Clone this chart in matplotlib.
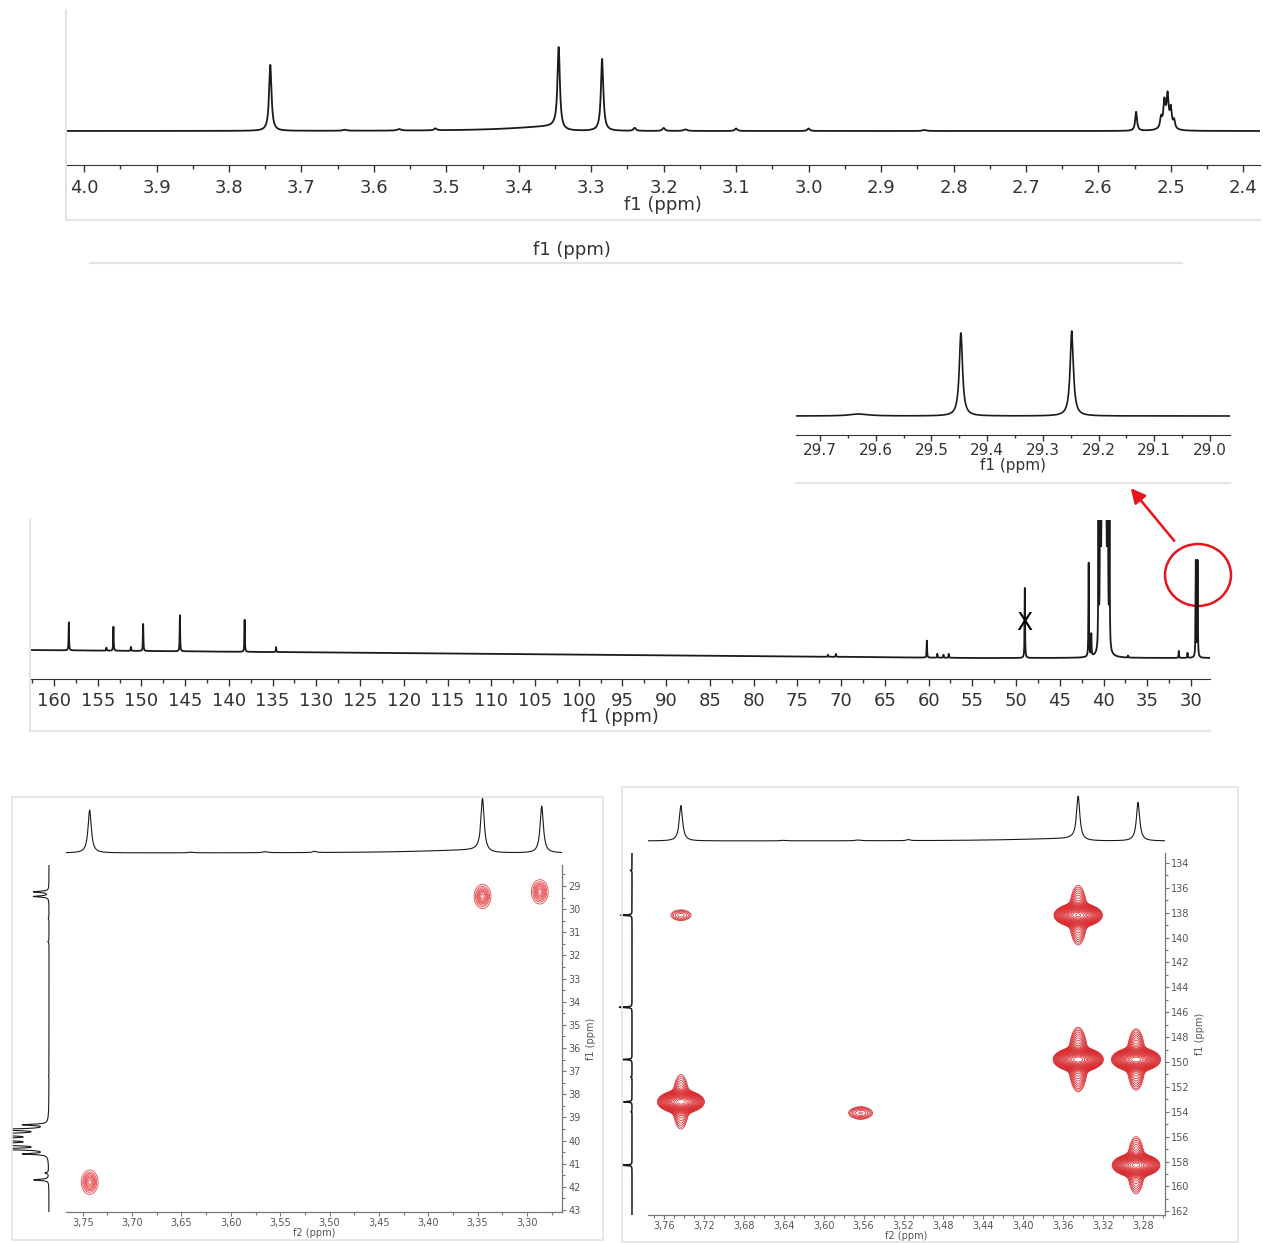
import numpy as np
import matplotlib
matplotlib.use('Agg')
import matplotlib.pyplot as plt
from matplotlib.patches import Ellipse, Rectangle, FancyArrowPatch
from matplotlib.lines import Line2D
from matplotlib.ticker import MultipleLocator, FuncFormatter

# ---- 1H spectrum (DMSO-d6): shift, height (px above baseline), half width
h1_ppm = [3.743, 3.345, 3.285, 3.640, 3.565, 3.515, 3.240, 3.200, 3.170, 3.100, 3.000, 2.840, 2.548,
          2.4955, 2.500, 2.5045, 2.509, 2.5135]
h1_int = [66, 82, 72, 1, 1.5, 2, 3, 3, 1.5, 2.5, 2.5, 1, 19,
          8, 18, 26, 22, 10]
h1_hw = [0.002, 0.002, 0.002, 0.003, 0.003, 0.002, 0.002, 0.002, 0.003, 0.002, 0.002, 0.003, 0.0015,
         0.0015, 0.0015, 0.0015, 0.0015, 0.0015]
# broad components (water hump, solvent base): centre, height, left / right half width
h1_broad_ppm = [3.352, 2.506]
h1_broad_int = [4.5, 10]
h1_broad_wl = [0.07, 0.005]
h1_broad_wr = [0.006, 0.005]

# ---- 13C spectrum
c13_ppm = [158.3, 154.0, 153.2, 151.2, 149.8, 145.6, 138.2, 134.6, 71.5, 70.6, 60.2, 59.0, 58.3, 57.7,
           49.0, 41.7, 41.4, 37.2, 31.4, 30.4, 29.45, 29.25]
c13_int = [28, 3, 24, 4, 27, 36, 32, 5, 2, 3, 17, 4, 3, 4,
           70, 94, 22, 2, 7, 5, 96, 96]
dmso_ppm = [39.32, 39.53, 39.74, 39.95, 40.16, 40.37, 40.58]
dmso_int = [150, 450, 900, 1050, 900, 450, 150]

# ---- 13C expansion (inset)
ins_ppm = [29.447, 29.248, 29.63]
ins_int = [83, 85, 2]
ins_hw = [0.0035, 0.0035, 0.02]

# ---- HSQC cross peaks (f2 = 1H, f1 = 13C)
hsqc_h = [3.345, 3.287, 3.743]
hsqc_c = [29.45, 29.25, 41.8]
hsqc_amp = [1.0, 1.0, 1.0]

# ---- HMBC cross peaks
hmbc_h = [3.345, 3.345, 3.287, 3.287, 3.743, 3.743, 3.563]
hmbc_c = [138.2, 149.8, 149.8, 158.3, 153.2, 138.2, 154.1]
hmbc_amp = [0.9, 1.2, 1.0, 0.8, 0.7, 0.03, 0.04]


def lor(x, x0, h, w):
    return h / (1 + ((x - x0) / w) ** 2)


def gau(x, x0, s):
    return np.exp(-0.5 * ((x - x0) / s) ** 2)


def h1_trace(x, scale=1.0):
    y = np.zeros_like(x)
    for p, h, w in zip(h1_ppm, h1_int, h1_hw):
        y += lor(x, p, h, w)
    for p, h, wl, wr in zip(h1_broad_ppm, h1_broad_int, h1_broad_wl, h1_broad_wr):
        w = np.where(x > p, wl, wr)
        y += lor(x, p, h, w)
    return y * scale


def c13_trace(x, scale=1.0, hw=0.03):
    y = np.zeros_like(x)
    for p, h in zip(c13_ppm + dmso_ppm, c13_int + dmso_int):
        y += lor(x, p, h, hw)
    return y * scale


W, H = 1263, 1243
fig = plt.figure(figsize=(W / 100, H / 100), dpi=100)
ink = '#1a1a1a'
frame = '#e4e4e4'


def px_axes(x0, y0, x1, y1):
    return fig.add_axes([x0 / W, 1 - y1 / H, (x1 - x0) / W, (y1 - y0) / H])


def fig_line(xs, ys, **kw):
    fig.add_artist(Line2D([x / W for x in xs], [1 - y / H for y in ys],
                          transform=fig.transFigure, **kw))


def spec_axes(ax, size, tl, pad=4):
    for s in ['top', 'left', 'right']:
        ax.spines[s].set_visible(False)
    ax.spines['bottom'].set_color('#333333')
    ax.set_yticks([])
    ax.tick_params(axis='x', which='major', direction='out', length=tl, width=1,
                   colors='#333333', labelsize=size, pad=pad)
    ax.tick_params(axis='x', which='minor', direction='out', length=tl * 0.6, width=1, colors='#333333')
    ax.patch.set_alpha(0)


# ================= 1H =================
ax1 = px_axes(66, 10, 1260, 165)
x = np.linspace(2.35, 4.05, 24000)
ax1.plot(x, h1_trace(x), color=ink, lw=1.3)
ax1.set_xlim(4.025, 2.377)
ax1.set_ylim(-34, 121)
spec_axes(ax1, 13, 5, 5)
ax1.xaxis.set_major_locator(MultipleLocator(0.1))
ax1.xaxis.set_minor_locator(MultipleLocator(0.05))
ax1.xaxis.set_major_formatter(FuncFormatter(lambda v, p: f'{v:.1f}'))
ax1.set_xlabel('f1 (ppm)', fontsize=13, labelpad=-1, color='#333333')
fig_line([66, 66, 1260], [10, 220, 220], color=frame, lw=1.5)
fig.text(572 / W, 1 - 250 / H, 'f1 (ppm)', fontsize=13, ha='center', va='center', color='#333333')
fig_line([90, 1182], [263, 263], color=frame, lw=1.5)

# ================= 13C inset =================
axi = px_axes(796, 318, 1230, 435)
x = np.linspace(28.9, 29.8, 8000)
yi = np.zeros_like(x)
for p, h, w in zip(ins_ppm, ins_int, ins_hw):
    yi += lor(x, p, h, w)
axi.plot(x, yi, color=ink, lw=1.2)
axi.set_xlim(29.743, 28.964)
axi.set_ylim(-19, 98)
spec_axes(axi, 11, 4, 2)
axi.xaxis.set_major_locator(MultipleLocator(0.1))
axi.xaxis.set_minor_locator(MultipleLocator(0.05))
axi.xaxis.set_major_formatter(FuncFormatter(lambda v, p: f'{v:.1f}'))
axi.set_xlabel('f1 (ppm)', fontsize=11, labelpad=0, color='#333333')
fig_line([796, 1230], [483, 483], color=frame, lw=1.5)

# ================= 13C =================
ax2 = px_axes(30, 520, 1210, 679)
x = np.linspace(27.5, 163.5, 45000)
base = np.where(x > 55, 21 + 8 * (x - 55) / 108, 21)
ax2.plot(x, c13_trace(x) + base, color=ink, lw=1.3)
ax2.set_xlim(162.74, 27.83)
ax2.set_ylim(0, 159)
spec_axes(ax2, 13, 5)
ax2.xaxis.set_major_locator(MultipleLocator(5))
ax2.xaxis.set_minor_locator(MultipleLocator(2.5))
ax2.xaxis.set_major_formatter(FuncFormatter(lambda v, p: f'{v:.0f}'))
ax2.set_xlabel('f1 (ppm)', fontsize=13, labelpad=-1, color='#333333')
ax2.text(49.0, 56, 'X', fontsize=17, ha='center', va='center', color='black')
ax2.add_patch(Ellipse((29.2, 104), width=66 / 8.746, height=62, fill=False,
                      ec='#e8141c', lw=1.8, clip_on=False))
fig_line([30, 30, 1210], [520, 731, 731], color=frame, lw=1.5)
fig.add_artist(FancyArrowPatch((1176 / W, 1 - 543 / H), (1129 / W, 1 - 486 / H),
                               transform=fig.transFigure, arrowstyle='-|>',
                               mutation_scale=22, color='#e8141c', lw=1.8))


# ================= 2D helpers =================
def axes2d(ax, xfmt, xmaj, xmin, ymaj, ymin):
    for s in ['top', 'left']:
        ax.spines[s].set_visible(False)
    for s in ['bottom', 'right']:
        ax.spines[s].set_color('#777777')
        ax.spines[s].set_linewidth(0.9)
    ax.yaxis.tick_right()
    ax.yaxis.set_label_position('right')
    ax.tick_params(which='major', direction='out', length=3, width=0.8, colors='#777777',
                   labelsize=7, labelcolor='#555555', pad=1.5)
    ax.tick_params(which='minor', direction='out', length=2, width=0.8, colors='#777777')
    ax.xaxis.set_major_locator(MultipleLocator(xmaj))
    ax.xaxis.set_minor_locator(MultipleLocator(xmin))
    ax.yaxis.set_major_locator(MultipleLocator(ymaj))
    ax.yaxis.set_minor_locator(MultipleLocator(ymin))
    ax.xaxis.set_major_formatter(FuncFormatter(lambda v, p: xfmt.format(v).replace('.', ',')))
    ax.yaxis.set_major_formatter(FuncFormatter(lambda v, p: f'{v:.0f}'))
    ax.set_xlabel('f2 (ppm)', fontsize=7, labelpad=0, color='#555555')
    ax.set_ylabel('f1 (ppm)', fontsize=7, labelpad=4, color='#555555')


def bare(ax):
    ax.axis('off')
    ax.patch.set_alpha(0)


# ================= HSQC =================
fig.add_artist(Rectangle((12 / W, 1 - 1240 / H), 591 / W, 443 / H, transform=fig.transFigure,
                         fill=False, ec=frame, lw=1.2))
hx = (3.767, 3.2645)
hy = (43.09, 28.09)
axh = px_axes(66, 865, 562, 1212)
gx = np.arange(3.26, 3.77, 0.0005)
gy = np.arange(28.0, 43.2, 0.02)
X, Y = np.meshgrid(gx, gy)
Z = np.zeros_like(X)
for h, c, a in zip(hsqc_h, hsqc_c, hsqc_amp):
    Z += a * gau(X, h, 0.0042) * gau(Y, c, 0.26)
axh.contour(X, Y, Z, levels=np.linspace(0.13, 0.93, 8), colors='#e8474a', linewidths=0.6)
axh.set_xlim(*hx)
axh.set_ylim(*hy)
axes2d(axh, '{:.2f}', 0.05, 0.025, 1, 0.5)

axht = px_axes(66, 793, 562, 858)
x = np.linspace(3.25, 3.78, 8000)
axht.plot(x, h1_trace(x, 0.65), color=ink, lw=0.8)
axht.set_xlim(*hx)
axht.set_ylim(-5, 60)
bare(axht)

axhl = px_axes(12, 865, 52, 1212)
y = np.linspace(27.9, 43.3, 12000)
axhl.plot(c13_trace(y, 0.16), y, color=ink, lw=0.8)
axhl.set_xlim(37, -3)
axhl.set_ylim(*hy)
bare(axhl)

# ================= HMBC =================
fig.add_artist(Rectangle((622 / W, 1 - 1242 / H), 616 / W, 455 / H, transform=fig.transFigure,
                         fill=False, ec=frame, lw=1.2))
mx = (3.776, 3.258)
my = (162.3, 133.2)
axm = px_axes(648, 853, 1165, 1215)
gx = np.arange(3.25, 3.785, 0.0004)
gy = np.arange(133.0, 162.5, 0.04)
X, Y = np.meshgrid(gx, gy)
Z = np.zeros_like(X)
for h, c, a in zip(hmbc_h, hmbc_c, hmbc_amp):
    # wide central ellipse plus a weaker column along f1
    Z += a * gau(X, h, 0.0085) * gau(Y, c, 0.33)
    Z += a * 0.08 * gau(X, h, 0.005) * gau(Y, c, 1.35)
axm.contour(X, Y, Z, levels=np.geomspace(0.015, 1.1, 26), colors='#d92a2e', linewidths=0.55)
axm.set_xlim(*mx)
axm.set_ylim(*my)
axes2d(axm, '{:.2f}', 0.04, 0.01, 2, 1)

axmt = px_axes(648, 790, 1165, 846)
x = np.linspace(3.25, 3.79, 8000)
axmt.plot(x, h1_trace(x, 0.535), color=ink, lw=0.8)
axmt.set_xlim(*mx)
axmt.set_ylim(-5, 51)
bare(axmt)

axml = px_axes(618, 853, 634, 1215)
y = np.linspace(133.0, 162.5, 12000)
axml.plot(c13_trace(y, 0.35), y, color=ink, lw=1.1)
axml.set_xlim(14, -2)
axml.set_ylim(*my)
bare(axml)

fig.savefig('out.png', dpi=100)
